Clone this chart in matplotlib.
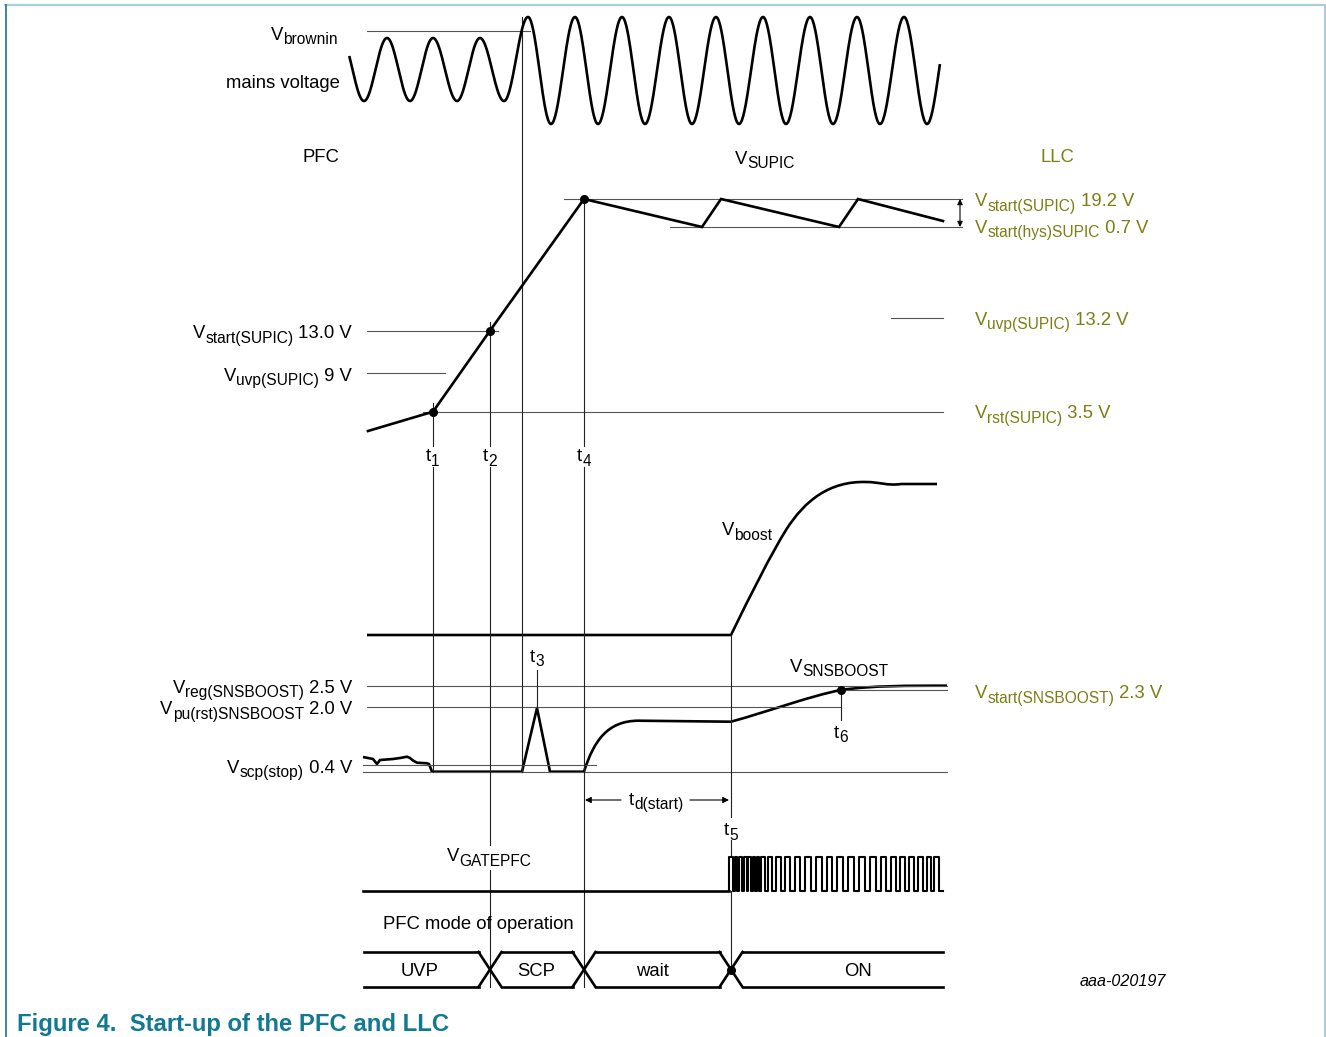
import numpy as np
import matplotlib.pyplot as plt
from matplotlib.path import Path
from matplotlib.patches import PathPatch

plt.rcParams['font.family'] = ['Liberation Sans', 'DejaVu Sans']

# ---- data (pixel coordinates of the timing diagram, y grows downward) ----
t_names = ['1', '2', '3', '4', '5', '6']
t_x = [433, 490, 537, 584, 731, 841]
x_brownin = 522

# mains voltage: successive extrema (first and last are just outside the drawn span)
mains_x = [341, 364, 387, 410, 433, 457, 480, 504, 528, 551, 575, 598, 622, 645, 669,
           692, 716, 739, 763, 786, 810, 833, 857, 880, 904, 927, 951]
mains_y = [38, 101, 38, 101, 38, 101, 38, 101, 17, 124, 17, 124, 17, 124, 17,
           124, 17, 124, 17, 124, 17, 124, 17, 124, 17, 124, 17]
mains_span = (349, 940)

supic_x = [368, 433, 490, 584, 702, 721, 839, 858, 943]
supic_y = [431, 411.7, 330.7, 199, 227, 199, 227, 199, 221]

# bezier vertices and codes (L = line, C = cubic curve, three points per C)
boost_pts = [(367, 635), (731, 635), (752, 592), (770, 556), (786, 530),
             (805, 500), (830, 481), (866, 482),
             (880, 482), (887, 486), (901, 484), (937, 484)]
boost_codes = ['M', 'L', 'C', 'C', 'C', 'C', 'C', 'C', 'C', 'C', 'C', 'L']

sns_pts = [(363, 757), (368, 758), (373, 759), (377, 764), (380, 760), (393, 759), (400, 758),
           (407, 756.7), (410, 758), (413, 760.5), (417, 762.7), (427, 763.3), (429, 764),
           (432, 771.7), (522, 771.7), (537, 708), (550, 771.7), (584, 771.7),
           (594, 740), (608, 721), (638, 720.7), (731, 721.7),
           (770, 711), (810, 696), (841, 690),
           (872, 685.5), (910, 685.7), (947, 685.7)]
sns_codes = ['M'] + ['L'] * 17 + ['C', 'C', 'C', 'L', 'C', 'C', 'C', 'C', 'C', 'C']

gate_rise = [729, 735, 739, 744, 748, 753, 757, 761, 768, 776, 785, 795, 805, 816, 827, 837,
             848, 859, 870, 881, 891, 900, 909, 918, 927, 934]
gate_fall = [733, 737, 742, 747, 751, 755, 759, 765, 772, 781, 790, 800, 811, 822, 832, 843,
             854, 865, 876, 886, 896, 905, 914, 923, 931, 939]
gate_low, gate_high = 891, 857

mode_edges = [364, 490, 584, 731, 943]
mode_labels = ['UVP', 'SCP', 'wait', 'ON']
mode_label_x = [420, 536, 652, 858]

# threshold lines: (y, x_start, x_end)
thresholds = [(31, 367, 530), (199, 564, 962), (227, 670, 962), (318, 891, 943),
              (330.7, 367, 498), (373, 367, 445), (411.7, 423, 943),
              (685.7, 367, 947), (706.7, 367, 841), (690, 841, 947),
              (765, 363, 596), (771.7, 363, 947)]

W, H = 1326, 1037
fig = plt.figure(figsize=(W / 100, H / 100), dpi=100)
ax = fig.add_axes([0, 0, 1, 1])
ax.set_xlim(0, W)
ax.set_ylim(H, 0)
ax.axis('off')
renderer = fig.canvas.get_renderer()

THICK = 1.9
THIN = 0.8
GREY = '#555555'
OLIVE = '#7c7f14'
MAIN, SUB, DROP = 13.3, 11.2, 4.5
CODE = {'M': Path.MOVETO, 'L': Path.LINETO, 'C': Path.CURVE4}

# frame
ax.plot([5, W], [5, 5], color='#a9cfd3', lw=1.6)
ax.plot([6, 6], [5, H], color='#3d8898', lw=1.4)
ax.plot([1325, 1325], [5, H], color='#a9cfd3', lw=1.4)

# threshold lines
for y, x0, x1 in thresholds:
    ax.plot([x0, x1], [y, y], color=GREY, lw=THIN)

# vertical time markers (segments with gaps for labels)
vsegs = {
    433: [(403, 446), (467, 771.7)],
    490: [(322, 446), (467, 845), (870, 987)],
    x_brownin: [(17, 771.7)],
    537: [(670, 708)],
    584: [(199, 446), (467, 987)],
    731: [(635, 817), (840, 857), (891, 970)],
    841: [(690, 720)],
}
for x, segs in vsegs.items():
    for y0, y1 in segs:
        ax.plot([x, x], [y0, y1], color='#222222', lw=THIN)

# mains voltage
px, py = [], []
for i in range(len(mains_x) - 1):
    u = np.linspace(0, 1, 40)
    px.append(mains_x[i] + (mains_x[i + 1] - mains_x[i]) * u)
    py.append(mains_y[i] + (mains_y[i + 1] - mains_y[i]) * (1 - np.cos(np.pi * u)) / 2)
px, py = np.concatenate(px), np.concatenate(py)
m = (px >= mains_span[0]) & (px <= mains_span[1])
ax.plot(px[m], py[m], color='black', lw=THICK, solid_capstyle='butt')

# curves
ax.plot(supic_x, supic_y, color='black', lw=THICK, solid_joinstyle='miter')
for pts, codes in [(boost_pts, boost_codes), (sns_pts, sns_codes)]:
    path = Path(pts, [CODE[c] for c in codes])
    ax.add_patch(PathPatch(path, facecolor='none', edgecolor='black', lw=THICK,
                           joinstyle='round', capstyle='butt'))

gx, gy = [363], [gate_low]
for r, f in zip(gate_rise, gate_fall):
    gx += [r, r, f, f]
    gy += [gate_low, gate_high, gate_high, gate_low]
gx.append(943)
gy.append(gate_low)
ax.plot(gx[:2], gy[:2], color='black', lw=THICK)
ax.plot(gx[1:], gy[1:], color='black', lw=1.5)

# dots
ax.plot([433, 490, 584, 841, 731], [411.7, 330.7, 199, 690, 970], 'o', color='black', ms=5.5)

# hysteresis arrow
ax.annotate('', xy=(960, 227), xytext=(960, 199),
            arrowprops=dict(arrowstyle='<|-|>', color='black', lw=0.8, mutation_scale=8,
                            shrinkA=0, shrinkB=0))

# td(start) arrow
ax.annotate('', xy=(585, 800), xytext=(621, 800),
            arrowprops=dict(arrowstyle='-|>', color='black', lw=0.8, mutation_scale=9,
                            shrinkA=0, shrinkB=0))
ax.annotate('', xy=(729, 800), xytext=(690, 800),
            arrowprops=dict(arrowstyle='-|>', color='black', lw=0.8, mutation_scale=9,
                            shrinkA=0, shrinkB=0))

# mode of operation bus
top, bot, h = 952, 987, 11.5
for i in range(len(mode_edges) - 1):
    a = mode_edges[i] + (h if i > 0 else 0)
    b = mode_edges[i + 1] - (h if i < len(mode_edges) - 2 else 0)
    ax.plot([a, b], [top, top], color='black', lw=THICK)
    ax.plot([a, b], [bot, bot], color='black', lw=THICK)
    ax.text(mode_label_x[i], 976.5, mode_labels[i], fontsize=MAIN, ha='center', va='baseline')
for xc in mode_edges[1:-1]:
    ax.plot([xc - h, xc + h], [top, bot], color='black', lw=THICK)
    ax.plot([xc - h, xc + h], [bot, top], color='black', lw=THICK)


def rich(x, y, parts, ha='left', color='black'):
    widths = []
    for s, sub in parts:
        t = ax.text(0, 0, s, fontsize=SUB if sub else MAIN)
        widths.append(t.get_window_extent(renderer).width)
        t.remove()
    total = sum(widths)
    x0 = x - total if ha == 'right' else (x - total / 2 if ha == 'center' else x)
    for (s, sub), w in zip(parts, widths):
        ax.text(x0, y + (DROP if sub else 0), s, fontsize=SUB if sub else MAIN,
                ha='left', va='baseline', color=color)
        x0 += w


def vlab(x, y, sub, tail='', ha='left', color='black', main='V'):
    parts = [(main, False), (sub, True)]
    if tail:
        parts.append((' ' + tail, False))
    rich(x, y, parts, ha, color)


vlab(338, 40, 'brownin', ha='right')
ax.text(340, 88, 'mains voltage', fontsize=MAIN, ha='right', va='baseline')
ax.text(321, 161.5, 'PFC', fontsize=MAIN, ha='center', va='baseline')
vlab(735, 163.5, 'SUPIC')
ax.text(1040, 161.5, 'LLC', fontsize=MAIN, ha='left', va='baseline', color=OLIVE)

vlab(975, 206, 'start(SUPIC)', '19.2 V', color=OLIVE)
vlab(975, 233, 'start(hys)SUPIC', '0.7 V', color=OLIVE)
vlab(975, 325, 'uvp(SUPIC)', '13.2 V', color=OLIVE)
vlab(975, 418, 'rst(SUPIC)', '3.5 V', color=OLIVE)
vlab(975, 698, 'start(SNSBOOST)', '2.3 V', color=OLIVE)

vlab(352, 338, 'start(SUPIC)', '13.0 V', ha='right')
vlab(352, 381, 'uvp(SUPIC)', '9 V', ha='right')
vlab(352, 693, 'reg(SNSBOOST)', '2.5 V', ha='right')
vlab(352, 714, 'pu(rst)SNSBOOST', '2.0 V', ha='right')
vlab(352, 773, 'scp(stop)', '0.4 V', ha='right')

vlab(722, 535, 'boost')
vlab(790, 672, 'SNSBOOST')
vlab(447, 861, 'GATEPFC')

t_base = {'1': 461, '2': 461, '4': 461, '3': 662, '6': 738, '5': 835}
for name, x in zip(t_names, t_x):
    vlab(x, t_base[name], name, ha='center', main='t')
vlab(656, 805, 'd(start)', ha='center', main='t')

ax.text(383, 929, 'PFC mode of operation', fontsize=MAIN, ha='left', va='baseline')
ax.text(1166, 986, 'aaa-020197', fontsize=11.6, style='italic', ha='right', va='baseline')
ax.text(17, 1030.5, 'Figure 4.  Start-up of the PFC and LLC', fontsize=17.2,
        fontweight='bold', color='#117a91', ha='left', va='baseline')

fig.savefig('out.png', dpi=100)
